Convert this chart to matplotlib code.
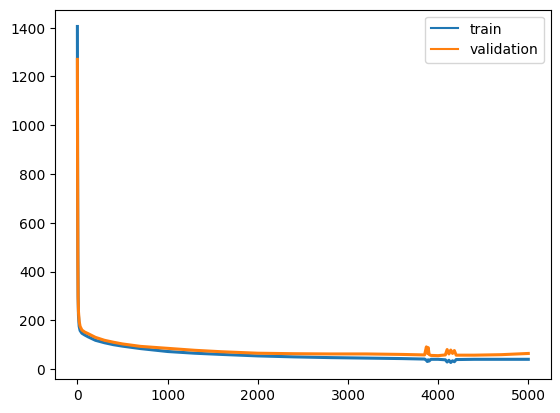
import matplotlib
matplotlib.use("Agg")
import matplotlib.pyplot as plt

epochs = [0, 2, 5, 8, 12, 20, 30, 50, 80, 120, 200, 300, 400, 500, 700, 1000,
          1300, 1600, 2000, 2400, 2800, 3200, 3600, 3850, 3870, 3880, 3890,
          3900, 3920, 4000, 4080, 4100, 4120, 4140, 4160, 4180, 4200, 4400,
          4700, 5000]
train = [1405, 900, 480, 300, 220, 175, 158, 147, 140, 132, 118, 108, 100,
         94, 84, 72, 65, 60, 54, 50, 47, 45, 43, 41, 36, 31, 38, 33, 40, 40,
         38, 29, 36, 27, 34, 30, 39, 40, 40, 40]
validation = [1270, 820, 440, 290, 235, 195, 175, 160, 152, 145, 130, 118,
              110, 103, 93, 85, 77, 71, 65, 63, 62, 62, 60, 58, 91, 65, 88,
              60, 56, 55, 58, 80, 62, 78, 64, 76, 57, 57, 59, 64]

plt.figure(figsize=(6.4, 4.8))
plt.plot(epochs, train, label="train", linewidth=2.2)
plt.plot(epochs, validation, label="validation", linewidth=2.2)
leg = plt.legend()
for handle in leg.get_lines():
    handle.set_linewidth(1.5)
plt.savefig("out.png", dpi=100, bbox_inches="tight")
